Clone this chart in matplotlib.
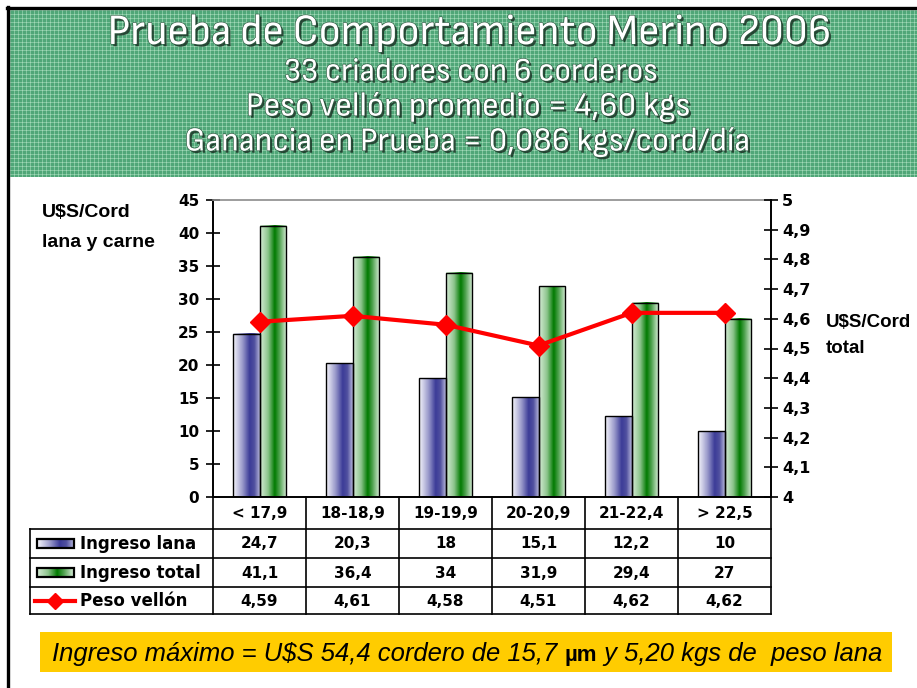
import numpy as np
import matplotlib
matplotlib.use('Agg')
import matplotlib.pyplot as plt
from matplotlib.colors import LinearSegmentedColormap
import matplotlib.patheffects as pe
from matplotlib.lines import Line2D
from matplotlib.patches import Rectangle

# ---------------- data ----------------
categories = ['< 17,9', '18-18,9', '19-19,9', '20-20,9', '21-22,4', '> 22,5']
ingreso_lana = [24.7, 20.3, 18, 15.1, 12.2, 10]
ingreso_total = [41.1, 36.4, 34, 31.9, 29.4, 27]
peso_vellon = [4.59, 4.61, 4.58, 4.51, 4.62, 4.62]
series_names = ['Ingreso lana', 'Ingreso total', 'Peso vellón']
left_ticks = [0, 5, 10, 15, 20, 25, 30, 35, 40, 45]
right_ticks = [4, 4.1, 4.2, 4.3, 4.4, 4.5, 4.6, 4.7, 4.8, 4.9, 5]
title_lines = ['Prueba de Comportamiento Merino 2006',
               '33 criadores con 6 corderos',
               'Peso vellón promedio = 4,60 kgs',
               'Ganancia en Prueba = 0,086 kgs/cord/día']
footer_parts = ['Ingreso máximo = U$S 54,4 cordero de 15,7 ', 'µm', ' y 5,20 kgs de  peso lana']

W, H = 917, 688
fig = plt.figure(figsize=(W / 100, H / 100), dpi=100)
fig.patch.set_facecolor('white')


def fx(x):
    return x / W


def fy(y):
    return 1 - y / H


def fmt(v):
    return ('%g' % v).replace('.', ',')


TITLEF = ['Sofia Sans Semi Condensed', 'Roboto Condensed', 'DejaVu Sans']
SANS = ['Liberation Sans', 'DejaVu Sans']
WIDE = ['DejaVu Sans']

renderer = fig.canvas.get_renderer()


def fit_width(t, target):
    bb = t.get_window_extent(renderer=renderer)
    t.set_fontsize(t.get_fontsize() * target / bb.width)


# ---------------- header (plaid green) ----------------
axh = fig.add_axes([fx(10), fy(177), fx(917) - fx(10), fy(10) - fy(177)])
hh, ww = 167, 907
img = np.zeros((hh, ww, 3))
base = np.array([80, 166, 120]) / 255.0
light = np.array([128, 198, 158]) / 255.0
img[:, :] = base
rows = (np.arange(hh) % 4 == 0)
cols = (np.arange(ww) % 4 == 0)
img[rows, :] = light
img[:, cols] = light
img[np.ix_(rows, cols)] = np.array([165, 215, 185]) / 255.0
axh.imshow(img, aspect='auto', interpolation='nearest')
axh.set_axis_off()

# black frame lines
fig.add_artist(Line2D([fx(8), fx(8)], [fy(7), 0], color='black', lw=2.4))
fig.add_artist(Line2D([fx(7), 1], [fy(8), fy(8)], color='black', lw=2.4))

shadow = [pe.SimplePatchShadow(offset=(1.6, -1.6), shadow_rgbFace='#1c3326', alpha=0.85),
          pe.Stroke(linewidth=0.9, foreground='#2f5a42'), pe.Normal()]
title_x = [(107, 830), (283, 657), (246, 690), (185, 750)]
title_y = [33, 72, 107, 142]
for t, (xa, xb), yy in zip(title_lines, title_x, title_y):
    tt = fig.text(fx((xa + xb) / 2), fy(yy), t, ha='center', va='center', color='white',
                  fontsize=24, family=TITLEF, path_effects=shadow)
    fit_width(tt, xb - xa)

# ---------------- main axes ----------------
ax = fig.add_axes([fx(213), fy(497), fx(771) - fx(213), fy(200) - fy(497)])
x = np.arange(len(categories))
bw = 0.29

cmap_l = LinearSegmentedColormap.from_list('l', [(0, '#f6f6fb'), (0.35, '#9a9acb'),
                                                 (0.62, '#3c3c98'), (0.8, '#50509f'),
                                                 (1, '#b4b4da')])
cmap_t = LinearSegmentedColormap.from_list('t', [(0, '#d6ecd6'), (0.3, '#8cc48c'),
                                                 (0.55, '#007a00'), (0.75, '#5aa85a'),
                                                 (1, '#dcefdc')])
grad = np.linspace(0, 1, 64).reshape(1, -1)

bars_l = ax.bar(x - bw / 2, ingreso_lana, bw, facecolor='none', edgecolor='black', lw=1.0, zorder=3)
bars_t = ax.bar(x + bw / 2, ingreso_total, bw, facecolor='none', edgecolor='black', lw=1.0, zorder=3)
for bars, cm in ((bars_l, cmap_l), (bars_t, cmap_t)):
    for r in bars:
        ax.imshow(grad, extent=[r.get_x(), r.get_x() + r.get_width(), 0, r.get_height()],
                  aspect='auto', cmap=cm, zorder=2, interpolation='bilinear')

ax.set_xlim(-0.5, len(categories) - 0.5)
ax.set_ylim(0, 45)
ax.set_xticks([])
ax.set_yticks(left_ticks)
ax.set_yticklabels([fmt(v) for v in left_ticks], fontweight='bold', family=WIDE, fontsize=11)
ax.tick_params(axis='y', direction='inout', length=10, width=1.2, pad=5)
ax.spines['top'].set_color('#8c8c8c')
ax.spines['top'].set_linewidth(1.2)
for s in ('left', 'bottom'):
    ax.spines[s].set_linewidth(1.4)
ax.spines['right'].set_visible(False)

ax2 = ax.twinx()
ax2.plot(x, peso_vellon, color='#ff0000', lw=3, marker='D', ms=10, zorder=5)
ax2.set_ylim(4, 5)
ax2.set_yticks(right_ticks)
ax2.set_yticklabels([fmt(v) for v in right_ticks], fontweight='bold', family=WIDE, fontsize=11.5)
ax2.tick_params(axis='y', direction='inout', length=10, width=1.2, pad=3)
ax2.spines['right'].set_linewidth(1.4)
for s in ('top', 'left', 'bottom'):
    ax2.spines[s].set_visible(False)

# axis side labels
lab = dict(fontsize=14, fontweight='bold', family=SANS, va='baseline', ha='left', parse_math=False)
fig.text(fx(42), fy(217), 'U$S/Cord', **lab)
fig.text(fx(42), fy(247), 'lana y carne', **lab)
lab_r = dict(lab, fontsize=13.5)
fig.text(fx(826), fy(327), 'U$S/Cord', **lab_r)
fig.text(fx(826), fy(353), 'total', **lab_r)

# ---------------- data table ----------------
x0, x1 = 213, 771
colw = (x1 - x0) / len(categories)
col_edges = [x0 + i * colw for i in range(len(categories) + 1)]
row_y = [497, 529, 558, 587, 614]
tl = dict(color='black', lw=1.2)
for xe in col_edges:
    fig.add_artist(Line2D([fx(xe), fx(xe)], [fy(497), fy(614)], **tl))
fig.add_artist(Line2D([fx(30), fx(30)], [fy(529), fy(614)], **tl))
for yy in row_y[1:]:
    fig.add_artist(Line2D([fx(30), fx(x1)], [fy(yy), fy(yy)], **tl))

cell = dict(fontsize=11, fontweight='bold', family=WIDE, ha='center', va='center')
for i, c in enumerate(categories):
    cx = x0 + (i + 0.5) * colw
    fig.text(fx(cx), fy(514), c, **cell)
    for r, vals in enumerate((ingreso_lana, ingreso_total, peso_vellon)):
        cy = (row_y[r + 1] + row_y[r + 2]) / 2
        fig.text(fx(cx), fy(cy + 0.5), fmt(vals[i]), **cell)

for r, name in enumerate(series_names):
    cy = (row_y[r + 1] + row_y[r + 2]) / 2
    fig.text(fx(80), fy(cy + 0.5), name, fontsize=12, fontweight='bold', family=WIDE,
             ha='left', va='center')
    if r < 2:
        axi = fig.add_axes([fx(37), fy(cy + 4.5), fx(74) - fx(37), fy(cy - 4.5) - fy(cy + 4.5)])
        axi.imshow(grad, aspect='auto', cmap=(cmap_l if r == 0 else cmap_t), extent=[0, 1, 0, 1])
        axi.add_patch(Rectangle((0, 0), 1, 1, fill=False, edgecolor='black', lw=1.6,
                                transform=axi.transAxes, clip_on=False))
        axi.set_axis_off()
    else:
        fig.add_artist(Line2D([fx(35), fx(75)], [fy(cy), fy(cy)], color='#ff0000', lw=3))
        fig.add_artist(Line2D([fx(55)], [fy(cy)], color='#ff0000', marker='D', ms=8, lw=0))

# ---------------- footer ----------------
fig.add_artist(Rectangle((fx(40), fy(672)), fx(892) - fx(40), fy(632) - fy(672),
                         transform=fig.transFigure, facecolor='#ffcc00', edgecolor='none'))
styles = [dict(style='italic', family=SANS, fontsize=16),
          dict(style='normal', fontweight='bold', family=SANS, fontsize=16),
          dict(style='italic', family=SANS, fontsize=16)]
texts = [fig.text(0, fy(661), p, ha='left', va='baseline', parse_math=False, **st)
         for p, st in zip(footer_parts, styles)]
widths = [t.get_window_extent(renderer=renderer).width for t in texts]
target_total = 828
fixed = widths[1]
scale = (target_total - fixed) / (widths[0] + widths[2])
for k in (0, 2):
    texts[k].set_fontsize(texts[k].get_fontsize() * scale)
xpos = 52
for t in texts:
    t.set_x(fx(xpos))
    xpos += t.get_window_extent(renderer=renderer).width

fig.savefig('out.png', dpi=100)
